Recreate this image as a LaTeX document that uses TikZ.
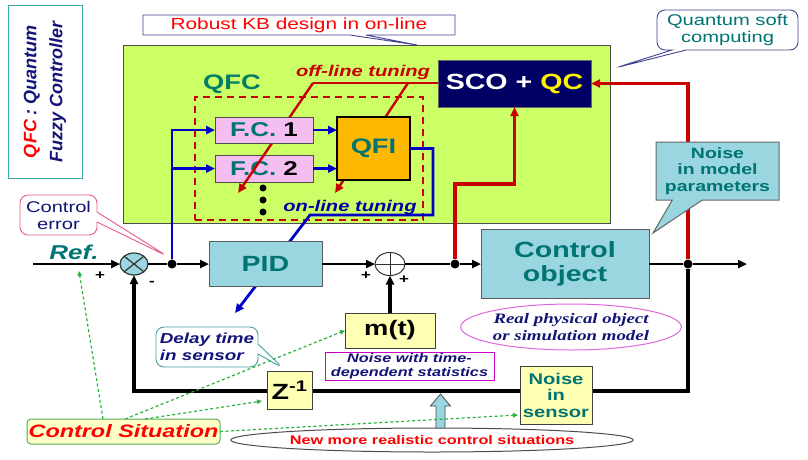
\documentclass[tikz,border=0pt]{standalone}
\usepackage{fontspec}
\setmainfont{Liberation Sans}[FakeStretch=1.3]
\newfontfamily\serifx{Liberation Serif}[FakeStretch=1.3]
\newfontfamily\rotf{Liberation Sans}
\usetikzlibrary{arrows.meta,shapes.callouts,shapes.geometric,calc}
\newcommand{\fsz}[2]{\fontsize{#1pt}{#2pt}\selectfont}
\definecolor{limeg}{RGB}{204,255,102}
\definecolor{tealx}{RGB}{0,115,115}
\definecolor{tealq}{RGB}{0,125,100}
\definecolor{lblue}{RGB}{153,214,224}
\definecolor{pinkx}{RGB}{245,190,240}
\definecolor{orangex}{RGB}{255,184,0}
\definecolor{navyb}{RGB}{0,0,100}
\definecolor{redx}{RGB}{200,0,0}
\definecolor{bluex}{RGB}{0,0,200}
\definecolor{lyel}{RGB}{255,255,180}
\definecolor{lyel2}{RGB}{255,255,200}
\definecolor{navyx}{RGB}{20,20,120}
\definecolor{magx}{RGB}{200,0,200}
\definecolor{legc}{RGB}{60,170,170}
\definecolor{pinkb}{RGB}{230,90,140}
\definecolor{tealb}{RGB}{70,160,160}
\definecolor{gborder}{RGB}{90,170,90}
\definecolor{gdashc}{RGB}{40,180,60}
\begin{document}
\begin{tikzpicture}[x=1pt,y=-1pt,
 >={Triangle[length=9pt,width=8pt]},
 bx/.style={inner sep=0pt,outer sep=0pt,align=center,line width=1pt},
 bluebox/.style={bx,draw=black!65,fill=lblue,text=tealx,font=\bfseries\fsz{22}{24}},
 yelbox/.style={bx,draw=black!75,fill=lyel},
 jdot/.style={circle,fill=black,inner sep=0pt,minimum size=9pt},
 fdot/.style={circle,fill=black,inner sep=0pt,minimum size=7pt},
 mainl/.style={line width=2.6pt,black},
 fbl/.style={line width=3.2pt,black},
 redl/.style={line width=3.2pt,redx},
 bluel/.style={line width=2.8pt,bluex},
 gdash/.style={draw=gdashc,line width=1.2pt,dash pattern=on 3pt off 2.5pt,-{Triangle[length=5pt,width=4.5pt]}},
 cout/.style={bx,fill=white,line width=0.9pt},
 sumnode/.style={ellipse,draw=black!80,line width=1.2pt,inner sep=0pt,outer sep=0pt},
 sign/.style={font=\bfseries\fsz{13}{14},inner sep=0pt},
]
\useasboundingbox (0,0) rectangle (808,459);

% legend
\node[bx,draw=legc,rotate=90,minimum width=173pt,minimum height=74pt,font=\rotf\bfseries\itshape\fsz{18}{26}] (legend) at (45,91.5) {\textcolor{red}{QFC} \textcolor{navyx}{: Quantum}\\\textcolor{navyx}{Fuzzy Controller}};

% green region
\node[bx,draw=black!70,fill=limeg,minimum width=487pt,minimum height=178pt] (kb) at (366.5,134) {};

% callouts at top
\node[cout,rectangle callout,draw=navyx!80,minimum width=312pt,minimum height=20pt,callout absolute pointer={(417,45)},callout pointer width=16pt,text=red,font=\fsz{16}{18}] (robust) at (299,25) {Robust KB design in on-line};
\node[cout,rectangle callout,rounded corners=8pt,draw=navyx!80,minimum width=141pt,minimum height=40pt,callout absolute pointer={(615,68)},callout pointer width=14pt,text=tealx,font=\fsz{15.5}{17}] (qsc) at (727.5,30) {Quantum soft\\computing};

% QFC area
\node[bx,draw=redx,line width=1.8pt,dash pattern=on 7pt off 5pt,minimum width=228pt,minimum height=123pt] (qfcbox) at (309,158.5) {};
\node[text=tealq,font=\bfseries\fsz{21}{23}] (qfc) at (232,84) {QFC};
\node[text=redx,font=\bfseries\itshape\fsz{15.5}{18}] (offl) at (363,72) {off-line tuning};

\node[bx,draw=black!60,fill=navyb,minimum width=153pt,minimum height=47pt,font=\bfseries\fsz{22}{24}] (sco) at (514.5,83.5) {\textcolor{white}{SCO +} \textcolor{yellow}{QC}};

\node[bx,draw=black!70,fill=pinkx,minimum width=98pt,minimum height=27pt,font=\bfseries\fsz{20}{22}] (fc2) at (264,168.5) {\textcolor{tealx}{F.C.} 2};

\coordinate (off1) at (313,83);
\coordinate (off2) at (408,83);
\coordinate (t1) at (238,193);
\coordinate (t2) at (335,193);
\draw[redl,line width=2.4pt] (off1) -- (off1 -| sco.west);
\draw[redl,line width=2.4pt,->] (off1) -- (t1);
\draw[redl,line width=2.4pt,->] (off2) -- (t2);

\node[bx,draw=black!70,fill=pinkx,minimum width=98pt,minimum height=26pt,font=\bfseries\fsz{20}{22}] (fc1) at (264,130) {\textcolor{tealx}{F.C.} 1};
\node[bx,draw=black,line width=2.8pt,fill=orangex,minimum width=73pt,minimum height=63pt,text=tealx,font=\bfseries\fsz{21}{23}] (qfi) at (373.5,148.5) {QFI};

\node[fdot] (d1) at (263,188) {};
\node[fdot] (d2) at (263,200) {};
\node[fdot] (d3) at (263,212) {};
\node[text=bluex!80!black,font=\bfseries\itshape\fsz{15.5}{18}] (onl) at (350,207) {on-line tuning};

% main loop nodes
\coordinate (refin) at (33,264);
\node[sumnode,fill=lblue,minimum width=28pt,minimum height=22pt,path picture={\draw[line width=1.2pt] (path picture bounding box.north west) -- (path picture bounding box.south east) (path picture bounding box.north east) -- (path picture bounding box.south west);}] (s1) at (134,264) {};
\node[jdot] (j1) at (172,264) {};

% blue lines
\draw[bluel,->] (j1.north) |- (fc1.west);
\draw[bluel,->] (j1 |- fc2.west) -- (fc2.west);
\draw[bluel,->] (fc1.east) -- (fc1.east -| qfi.west);
\draw[bluel,->] (fc2.east) -- (fc2.east -| qfi.west);
\coordinate (bl) at (235,313);
\draw[bluel,->] (qfi.east) -- (433,148.5) -- (433,215) -- (310,215) -- (bl);

\node[bluebox,minimum width=113pt,minimum height=45pt] (pid) at (265.5,264) {PID};
\node[sumnode,fill=white,line width=1pt,minimum width=30pt,minimum height=23pt,path picture={\draw[line width=1pt] (path picture bounding box.north) -- (path picture bounding box.south) (path picture bounding box.west) -- (path picture bounding box.east);}] (s2) at (390,264) {};
\node[jdot] (j2) at (455,264) {};
\node[bluebox,minimum width=168pt,minimum height=69pt] (co) at (565,264) {Control\\object};
\node[jdot] (j3) at (688,264) {};
\coordinate (out) at (747,264);

\node[yelbox,minimum width=90pt,minimum height=35pt,font=\bfseries\fsz{21}{23}] (mt) at (390,330.5) {m(t)};
\node[bx,draw=magx,fill=white,minimum width=169pt,minimum height=28pt,text=navyx,font=\bfseries\itshape\fsz{12.5}{14}] (nwt) at (409.5,366) {Noise with time-\\dependent statistics};
\node[ellipse,draw=magx!60,line width=1pt,minimum width=184pt,minimum height=46pt,inner sep=0pt,text=navyx,font=\serifx\bfseries\itshape\fsz{14.5}{17},align=center] (rpo) at (571,327) {Real physical object\\or simulation model};

\node[text=tealx,font=\bfseries\itshape\fsz{20}{22}] (ref) at (74,252) {Ref.};
\node[sign] (p1) at (100,276) {+};
\node[sign] (m1) at (152,283) {-};
\node[sign] (p2) at (366,276) {+};
\node[sign] (p3) at (404,280) {+};

% main lines
\draw[mainl,->] (refin) -- (s1.west);
\draw[mainl] (s1.east) -- (j1.west);
\draw[mainl,->] (j1.east) -- (pid.west);
\draw[mainl,->] (pid.east) -- (s2.west);
\draw[mainl] (s2.east) -- (j2.west);
\draw[mainl,->] (j2.east) -- (co.west);
\draw[mainl] (co.east) -- (j3.west);
\draw[mainl,->] (j3.east) -- (out);
\draw[fbl,->] (mt.north) -- (s2.south);

% red lines
\draw[redl,->] (j2.north) -- (455,184) -| (sco.south);
\draw[redl,->] (j3.north) |- (sco.east);

\node[bx,rectangle callout,draw=black!60,fill=lblue,minimum width=123pt,minimum height=58pt,callout absolute pointer={(653,233)},callout pointer width=30pt,text=tealx,font=\bfseries\fsz{15}{16.5}] (nmp) at (717.5,171) {Noise\\in model\\parameters};

% feedback
\draw[fbl,->] (j3.south) -- (j3 |- 0,391) -| (s1.south);
\node[yelbox,minimum width=45pt,minimum height=38pt,font=\bfseries\fsz{22}{24}] (z) at (289.5,390) {Z\textsuperscript{-1}};
\node[yelbox,minimum width=72pt,minimum height=58pt,text=tealx,font=\bfseries\fsz{15.5}{16.5}] (ns) at (556,395) {Noise\\in\\sensor};

% callouts
\node[cout,rectangle callout,rounded corners=8pt,draw=pinkb,minimum width=77pt,minimum height=40pt,callout absolute pointer={(167,256)},callout pointer width=10pt,text=navyx,font=\fsz{15.5}{17}] (cerr) at (58.5,215) {Control\\error};
\node[cout,rectangle callout,rounded corners=8pt,draw=tealb,minimum width=102pt,minimum height=40pt,callout absolute pointer={(283,368)},callout pointer width=10pt,text=navyx,font=\bfseries\itshape\fsz{14.5}{17},align=left] (dts) at (207,347) {Delay time\\in sensor};

% block arrow and ellipse
\draw[fill=lblue,draw=black!70,line width=0.8pt] (436,430) -- (436,406) -- (430.5,406) -- (440.5,394) -- (450.5,406) -- (445,406) -- (445,430) -- cycle;
\node[ellipse,draw=black!70,line width=1pt,fill=white,minimum width=330pt,minimum height=24pt,inner sep=0pt,text=red,font=\bfseries\fsz{12.5}{14}] (nmr) at (432,440) {New more realistic control situations};

% control situation
\node[bx,rounded corners=4pt,draw=gborder,fill=lyel2,minimum width=193pt,minimum height=25pt,text=red,font=\bfseries\itshape\fsz{18}{20}] (cs) at (123.5,431.5) {Control Situation};
\coordinate (refm) at (79,271);
\coordinate (zin) at (262,401);
\coordinate (nsin) at (518,415);
\draw[gdash] (cs.north -| 103,0) -- (refm);
\draw[gdash] (cs.north -| 125,0) -- (mt.west);
\draw[gdash] (cs.north -| 145,0) -- (zin);
\draw[gdash] (cs.east) -- (nsin);
\end{tikzpicture}
\end{document}
